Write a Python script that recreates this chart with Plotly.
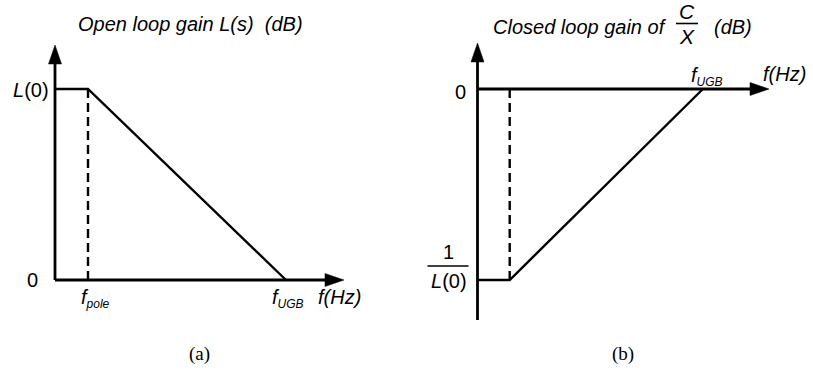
import plotly.graph_objects as go

W, H = 813, 371

# Asymptotic Bode magnitude plots, gain normalised so that |L(0)| = 1 (dB scale)
freq = [0, 1, 7]                  # origin, f_pole, f_UGB (log-frequency units)
open_loop_gain = [1, 1, 0]        # L(0) flat up to f_pole, then falls to 0 dB at f_UGB
closed_loop_gain = [-1, -1, 0]    # 1/L(0) flat up to f_pole, then rises to 0 dB at f_UGB
freq_subscripts = ["pole", "UGB"]
open_tick_labels = ["<i>L</i>(0)", "0"]
closed_tick_labels = ["1", "<i>L</i>(0)", "0"]
titles = ["Open loop gain L(s)\u00a0\u00a0(dB)", "Closed loop gain of", "(dB)"]
ratio_labels = ["C", "X"]
x_axis_label = "f(Hz)"
panel_captions = ["(a)", "(b)"]

SANS = "Liberation Sans, Arial, sans-serif"
SERIF = "Liberation Serif, Times New Roman, serif"
INK = "black"

# pixel geometry of each panel: origin (ox, oy) and pixels per unit (sx, sy)
panels = {
    "a": dict(ox=55.0, oy=280.0, sx=33.0, sy=191.0, dom=(0.0, 406.0)),
    "b": dict(ox=477.5, oy=89.0, sx=32.2, sy=191.0, dom=(406.0, 813.0)),
}


def to_x(p, px):
    g = panels[p]
    return (px - g["ox"]) / g["sx"]


def to_y(p, py):
    g = panels[p]
    return (g["oy"] - py) / g["sy"]


fig = go.Figure()

refs = {"a": ("x", "y"), "b": ("x2", "y2")}
shapes = []
annotations = []


def axis_line(p, x0, y0, x1, y1, width=2.8):
    xr, yr = refs[p]
    fig.add_trace(go.Scatter(x=[x0, x1], y=[y0, y1], mode="lines",
                             line=dict(color=INK, width=width),
                             xaxis=xr, yaxis=yr, hoverinfo="skip", showlegend=False))


def arrow_head(p, x, y, direction, length=19, half=6.5):
    xr, yr = refs[p]
    if direction == "right":
        path = f"M 0 0 L {-length} {half} L {-length} {-half} Z"
    else:
        path = f"M 0 0 L {-half} {-length} L {half} {-length} Z"
    shapes.append(dict(type="path", xref=xr, yref=yr, xsizemode="pixel", ysizemode="pixel",
                       xanchor=x, yanchor=y, path=path, fillcolor=INK,
                       line=dict(color=INK, width=0.5)))


def label(p, x, y, text, xanchor="center", yanchor="middle", xshift=0, yshift=0,
          size=19, italic=True, family=SANS):
    xr, yr = refs[p]
    annotations.append(dict(x=x, y=y, xref=xr, yref=yr, text=text, showarrow=False,
                            xanchor=xanchor, yanchor=yanchor, xshift=xshift, yshift=yshift,
                            font=dict(family=family, size=size, color=INK,
                                      style="italic" if italic else "normal")))


# ---------------- panel (a): open loop gain ----------------
axis_line("a", 0, 0, 0, to_y("a", 58))
arrow_head("a", 0, to_y("a", 45), "up")
axis_line("a", 0, 0, to_x("a", 327), 0)
arrow_head("a", to_x("a", 344), 0, "right")

fig.add_trace(go.Scatter(x=freq, y=open_loop_gain, mode="lines",
                         line=dict(color=INK, width=2.4), xaxis="x", yaxis="y",
                         hoverinfo="skip", showlegend=False))
fig.add_trace(go.Scatter(x=[freq[1], freq[1]], y=[0, open_loop_gain[1]], mode="lines",
                         line=dict(color=INK, width=2.4, dash="9px,5px"), xaxis="x", yaxis="y",
                         hoverinfo="skip", showlegend=False))

label("a", 0, open_loop_gain[0], open_tick_labels[0], xanchor="right", xshift=-4, yshift=-1,
      italic=False, size=20)
label("a", 0, 0, open_tick_labels[1], xanchor="right", xshift=-15, italic=False, size=20)
sub = "<sub><span style='font-size:12px'>{}</span></sub>"
label("a", freq[1], 0, "f" + sub.format(freq_subscripts[0]), xanchor="left", xshift=-9, yshift=-18,
      size=20)
label("a", freq[2], 0, "f" + sub.format(freq_subscripts[1]), xanchor="left", xshift=-16, yshift=-18,
      size=20)
label("a", to_x("a", 316), 0, x_axis_label, xanchor="left", yshift=-17, size=20)
label("a", to_x("a", 190), to_y("a", 24), titles[0], size=20)
label("a", to_x("a", 199), to_y("a", 354), panel_captions[0], italic=False, family=SERIF, size=19)

# ---------------- panel (b): closed loop gain C/X ----------------
axis_line("b", 0, to_y("b", 320), 0, to_y("b", 58))
arrow_head("b", 0, to_y("b", 43), "up")
axis_line("b", 0, 0, to_x("b", 752), 0)
arrow_head("b", to_x("b", 769), 0, "right")

fig.add_trace(go.Scatter(x=freq, y=closed_loop_gain, mode="lines",
                         line=dict(color=INK, width=2.4), xaxis="x2", yaxis="y2",
                         hoverinfo="skip", showlegend=False))
fig.add_trace(go.Scatter(x=[freq[1], freq[1]], y=[closed_loop_gain[1], 0], mode="lines",
                         line=dict(color=INK, width=2.4, dash="9px,5px"), xaxis="x2", yaxis="y2",
                         hoverinfo="skip", showlegend=False))

label("b", 0, 0, closed_tick_labels[2], xanchor="right", xshift=-10, yshift=-3, italic=False,
      size=20)
# 1 / L(0) stacked fraction at the low-frequency level
label("b", 0, closed_loop_gain[0], closed_tick_labels[0], xshift=-29, yshift=28, italic=False,
      size=20)
label("b", 0, closed_loop_gain[0], closed_tick_labels[1], xshift=-29, yshift=-1, italic=False,
      size=20)
shapes.append(dict(type="line", xref="x2", yref="y2", xsizemode="pixel", ysizemode="pixel",
                   xanchor=0, yanchor=closed_loop_gain[0], x0=-50, x1=-9, y0=14, y1=14,
                   line=dict(color=INK, width=1.6)))
label("b", freq[2], 0, "f" + sub.format(freq_subscripts[1]), xanchor="left", xshift=-14, yshift=13,
      size=20)
label("b", to_x("b", 761), 0, x_axis_label, xanchor="left", yshift=15, size=20)

# title with the C/X ratio written as a stacked fraction
label("b", to_x("b", 491), to_y("b", 27), titles[1], xanchor="left", size=20)
label("b", to_x("b", 687), to_y("b", 11), ratio_labels[0], size=21)
label("b", to_x("b", 687), to_y("b", 36), ratio_labels[1], size=21)
label("b", to_x("b", 712), to_y("b", 27), titles[2], xanchor="left", size=20)
shapes.append(dict(type="line", xref="paper", yref="paper",
                   x0=676 / W, x1=698 / W, y0=1 - 23.5 / H, y1=1 - 23.5 / H,
                   line=dict(color=INK, width=1.6)))
label("b", to_x("b", 623), to_y("b", 354), panel_captions[1], italic=False, family=SERIF, size=19)

axis_common = dict(visible=False, showgrid=False, zeroline=False, fixedrange=True)
layout_axes = {}
for name, (xr, yr) in refs.items():
    g = panels[name]
    xkey = "xaxis" if xr == "x" else "xaxis2"
    ykey = "yaxis" if yr == "y" else "yaxis2"
    layout_axes[xkey] = dict(axis_common, domain=[g["dom"][0] / W, g["dom"][1] / W],
                             range=[to_x(name, g["dom"][0]), to_x(name, g["dom"][1])],
                             anchor=yr)
    layout_axes[ykey] = dict(axis_common, domain=[0, 1],
                             range=[to_y(name, H), to_y(name, 0)], anchor=xr)

fig.update_layout(width=W, height=H, margin=dict(l=0, r=0, t=0, b=0),
                  paper_bgcolor="white", plot_bgcolor="white",
                  shapes=shapes, annotations=annotations, showlegend=False,
                  **layout_axes)

fig.write_html("out.html", config=dict(displayModeBar=False, staticPlot=True))
